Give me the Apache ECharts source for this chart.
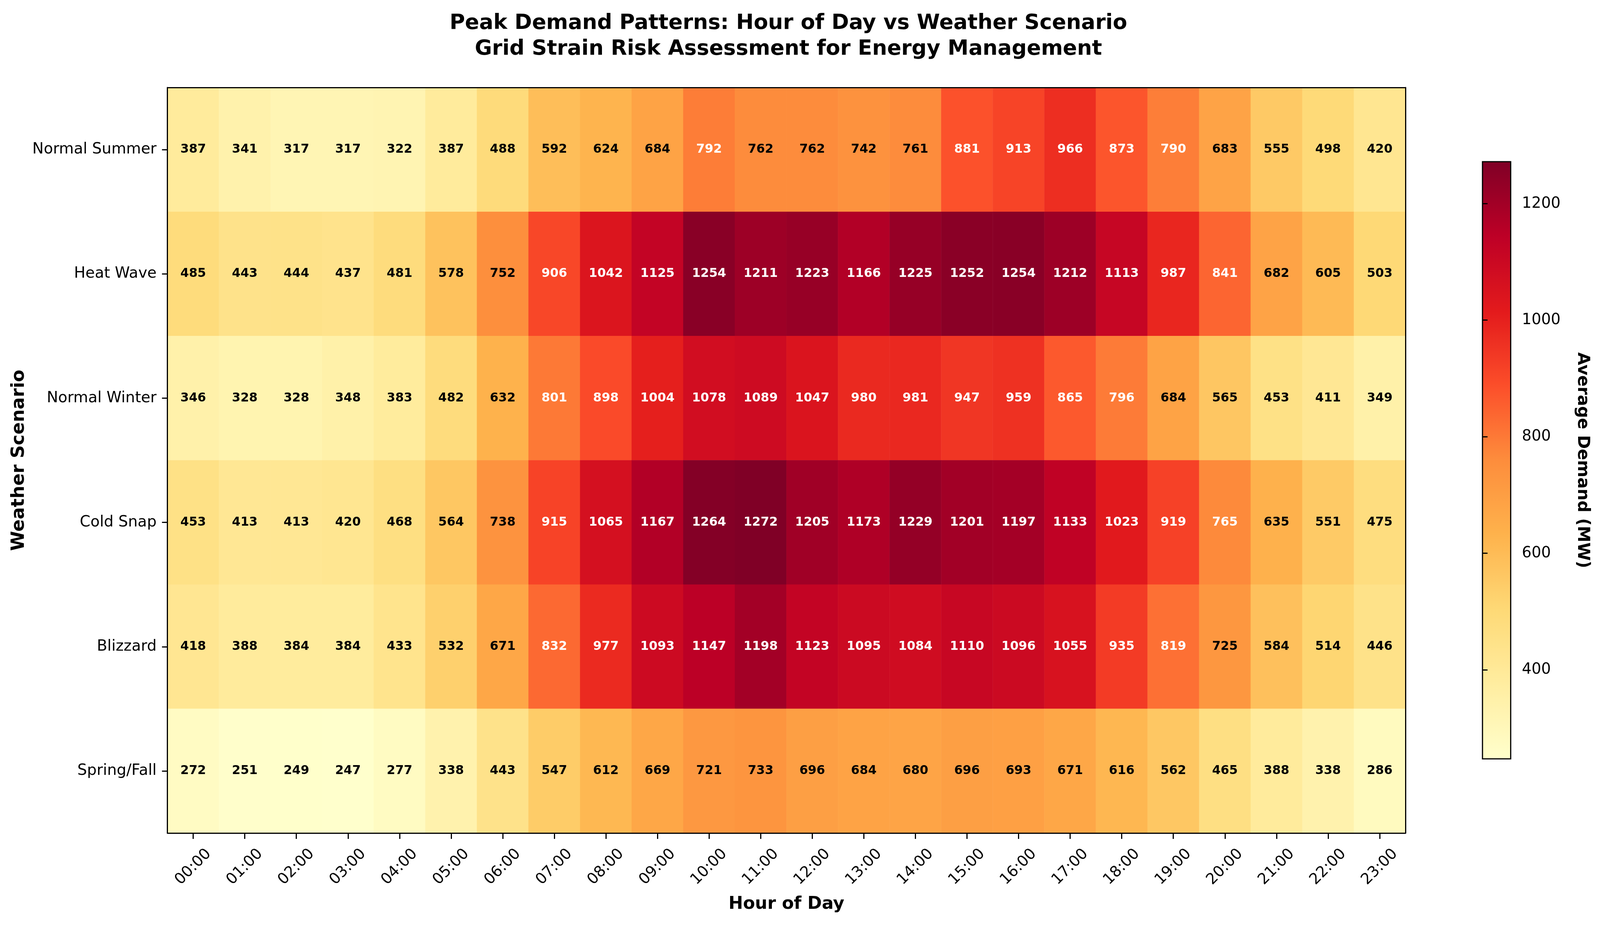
<!DOCTYPE html>
<html>
<head>
<meta charset="utf-8">
<title>Peak Demand Patterns</title>
<script src="https://cdn.jsdelivr.net/npm/echarts@6/dist/echarts.min.js"></script>
<style>
  html, body { margin: 0; padding: 0; background: #fff; overflow: hidden; }
  #c1 { width: 100vw; height: 100vh; }
</style>
</head>
<body>
<div id="c1"></div>
<script>
// categories
var hours = ['00:00','01:00','02:00','03:00','04:00','05:00','06:00','07:00','08:00','09:00','10:00','11:00',
             '12:00','13:00','14:00','15:00','16:00','17:00','18:00','19:00','20:00','21:00','22:00','23:00'];
var scenarios = ['Normal Summer','Heat Wave','Normal Winter','Cold Snap','Blizzard','Spring/Fall'];

// average demand (MW), one row per scenario
var normalSummer = [387,341,317,317,322,387,488,592,624,684,792,762,762,742,761,881,913,966,873,790,683,555,498,420];
var heatWave     = [485,443,444,437,481,578,752,906,1042,1125,1254,1211,1223,1166,1225,1252,1254,1212,1113,987,841,682,605,503];
var normalWinter = [346,328,328,348,383,482,632,801,898,1004,1078,1089,1047,980,981,947,959,865,796,684,565,453,411,349];
var coldSnap     = [453,413,413,420,468,564,738,915,1065,1167,1264,1272,1205,1173,1229,1201,1197,1133,1023,919,765,635,551,475];
var blizzard     = [418,388,384,384,433,532,671,832,977,1093,1147,1198,1123,1095,1084,1110,1096,1055,935,819,725,584,514,446];
var springFall   = [272,251,249,247,277,338,443,547,612,669,721,733,696,684,680,696,693,671,616,562,465,388,338,286];

// colorbar ticks
var cbTicks = [400,600,800,1000,1200];

var rows = [normalSummer, heatWave, normalWinter, coldSnap, blizzard, springFall];

// YlOrRd
var ylOrRd = ['#ffffcc','#ffeda0','#fed976','#feb24c','#fd8d3c','#fc4e2a','#e31a1c','#bd0026','#800026'];

var font = 'DejaVu Sans';

// layout was measured on a 4425x2371 picture, scale to the real viewport
var sx = window.innerWidth / 4425;
var sy = window.innerHeight / 2371;
function px(v){ return Math.round(v * sx * 100) / 100; }
function py(v){ return Math.round(v * sy * 100) / 100; }

var vmin = Infinity, vmax = -Infinity;
rows.forEach(function(r){
    r.forEach(function(v){
        if (v < vmin) vmin = v;
        if (v > vmax) vmax = v;
    });
});
var threshold = vmax * 0.6;

//build heatmap items
var cells = [];
rows.forEach(function(r, j){
    r.forEach(function(v, i){
        cells.push({
            value: [i, j, v],
            label: { color: v > threshold ? '#ffffff' : '#000000' }
        });
    });
});

var dom = document.getElementById("c1");
var myChart = echarts.init(dom, null, {renderer: 'canvas'});
var option = {
    backgroundColor: '#ffffff',
    animation: false,
    title: {
        text: 'Peak Demand Patterns: Hour of Day vs Weather Scenario\nGrid Strain Risk Assessment for Energy Management',
        left: px(2175),
        top: py(22),
        textAlign: 'center',
        textStyle: {
            fontFamily: font,
            fontWeight: 'bold',
            fontSize: px(58),
            lineHeight: py(66),
            color: '#000'
        }
    },
    grid: [
        { left: px(463), top: py(224), width: px(3424), height: py(1909), show: false },
        { left: px(4100), top: py(414), width: px(78), height: py(1529), show: true, z: 10,
          backgroundColor: 'transparent', borderColor: '#000', borderWidth: 3 }
    ],
    xAxis: [
        {
            type: 'category',
            gridIndex: 0,
            data: hours,
            z: 10,
            splitArea: { show: false },
            axisLine: { show: true, lineStyle: { color: '#000', width: 3 } },
            axisTick: { show: true, alignWithLabel: true, length: py(15), lineStyle: { color: '#000', width: 3 } },
            axisLabel: {
                rotate: 45,
                align: 'center',
                verticalAlign: 'middle',
                margin: py(87),
                fontFamily: font,
                fontSize: px(42),
                color: '#000'
            },
            name: 'Hour of Day',
            nameLocation: 'middle',
            nameGap: py(160),
            nameTextStyle: { fontFamily: font, fontWeight: 'bold', fontSize: px(48), color: '#000' }
        },
        {
            type: 'category',
            gridIndex: 0,
            data: hours,
            position: 'top',
            z: 10,
            axisLine: { show: true, lineStyle: { color: '#000', width: 3 } },
            axisTick: { show: false },
            axisLabel: { show: false }
        },
        { type: 'value', gridIndex: 1, show: false, min: 0, max: 1 }
    ],
    yAxis: [
        {
            type: 'category',
            gridIndex: 0,
            data: scenarios,
            inverse: true,
            z: 10,
            splitArea: { show: false },
            axisLine: { show: true, lineStyle: { color: '#000', width: 3 } },
            axisTick: { show: true, alignWithLabel: true, length: px(15), lineStyle: { color: '#000', width: 3 } },
            axisLabel: { margin: px(30), fontFamily: font, fontSize: px(42), color: '#000' },
            name: 'Weather Scenario',
            nameLocation: 'middle',
            nameGap: px(385),
            nameTextStyle: { fontFamily: font, fontWeight: 'bold', fontSize: px(50), color: '#000' }
        },
        {
            type: 'category',
            gridIndex: 0,
            data: scenarios,
            inverse: true,
            position: 'right',
            z: 10,
            axisLine: { show: true, lineStyle: { color: '#000', width: 3 } },
            axisTick: { show: false },
            axisLabel: { show: false }
        },
        {
            //colorbar scale
            type: 'value',
            gridIndex: 1,
            position: 'right',
            min: vmin,
            max: vmax,
            z: 10,
            splitLine: { show: false },
            axisLine: { show: false },
            axisTick: { show: true, length: px(14), customValues: cbTicks, lineStyle: { color: '#000', width: 3 } },
            axisLabel: {
                margin: px(31),
                customValues: cbTicks,
                formatter: function(v){ return String(v); },
                fontFamily: font,
                fontSize: px(42),
                color: '#000'
            },
            name: 'Average Demand (MW)',
            nameLocation: 'middle',
            nameRotate: -90,
            nameGap: px(175),
            nameTextStyle: { fontFamily: font, fontWeight: 'bold', fontSize: px(46), color: '#000' }
        }
    ],
    visualMap: {
        type: 'continuous',
        min: vmin,
        max: vmax,
        seriesIndex: 0,
        calculable: false,
        orient: 'vertical',
        left: px(4100),
        top: py(414),
        itemWidth: px(78),
        itemHeight: py(1529),
        padding: 0,
        text: null,
        hoverLink: false,
        inRange: { color: ylOrRd }
    },
    series: [
        {
            type: 'heatmap',
            xAxisIndex: 0,
            yAxisIndex: 0,
            data: cells,
            itemStyle: { borderWidth: 0 },
            label: {
                show: true,
                formatter: function(p){ return p.value[2]; },
                fontFamily: font,
                fontWeight: 'bold',
                fontSize: px(34)
            },
            emphasis: { disabled: true }
        }
    ]
};

if (option && typeof option === "object") {
    myChart.setOption(option, true);
}
</script>
</body>
</html>
